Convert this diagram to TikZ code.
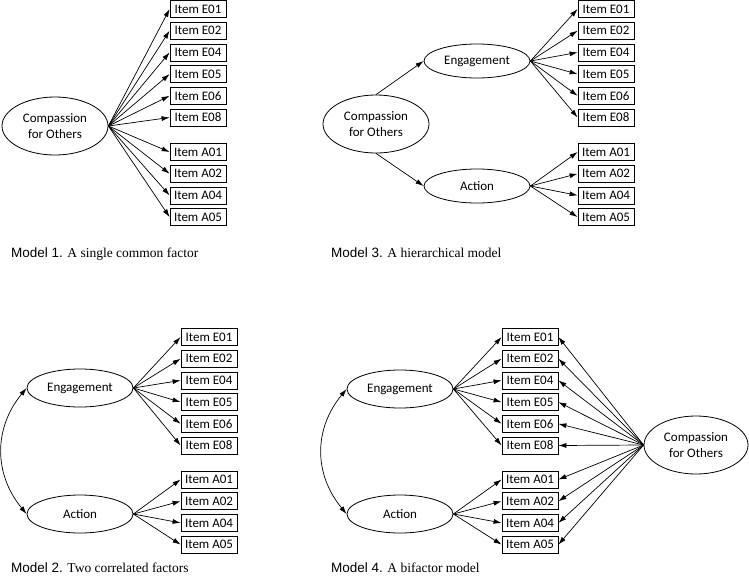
\documentclass[tikz,border=0pt]{standalone}
\usepackage{fontspec}
\setmainfont{Liberation Serif}
\newfontfamily\boxfont{Carlito}
\newfontfamily\capsans{Liberation Sans}
\usetikzlibrary{arrows.meta,shapes.geometric}
\tikzset{
  item/.style={draw, line width=0.8pt, minimum width=56pt, minimum height=17pt, inner sep=0pt,
    font=\boxfont\fontsize{13}{16}\selectfont},
  lat/.style={draw, ellipse, line width=0.8pt, inner sep=0pt, align=center,
    font=\boxfont\fontsize{13}{16}\selectfont},
  bigfac/.style={lat, minimum width=106pt, minimum height=58pt},
  smallfac/.style={lat, minimum width=106pt, minimum height=38pt},
  load/.style={line width=0.7pt, -{Latex[length=8pt,width=5pt]}},
  cov/.style={line width=0.7pt, {Latex[length=8pt,width=5pt]}-{Latex[length=8pt,width=5pt]}},
  captxt/.style={anchor=base west, inner sep=0pt, font=\fontsize{13.5}{16}\selectfont},
}
\begin{document}
\begin{tikzpicture}[x=1pt,y=-1pt]
\useasboundingbox (0,0) rectangle (749,584);

% ---------- Model 1 ----------
\node[bigfac] (m1c) at (55,126) {Compassion\\for Others};
\foreach \lab [count=\i] in {E01,E02,E04,E05,E06,E08}
  \node[item] (m1e\i) at (198,{9+21.7*(\i-1)}) {Item \lab};
\foreach \lab [count=\i] in {A01,A02,A04,A05}
  \node[item] (m1a\i) at (198,{152+21.7*(\i-1)}) {Item \lab};
\foreach \i in {1,...,6} \draw[load] (m1c.east) -- (m1e\i.west);
\foreach \i in {1,...,4} \draw[load] (m1c.east) -- (m1a\i.west);
\node[captxt] (cap1) at (11,257) {{\capsans Model 1.} A single common factor};

% ---------- Model 3 ----------
\node[bigfac] (m3c) at (376,124) {Compassion\\for Others};
\node[lat, minimum width=106pt, minimum height=34pt] (m3e) at (477,61) {Engagement};
\node[lat, minimum width=106pt, minimum height=34pt] (m3a) at (477,186) {Action};
\foreach \lab [count=\i] in {E01,E02,E04,E05,E06,E08}
  \node[item] (m3e\i) at (606,{9+21.7*(\i-1)}) {Item \lab};
\foreach \lab [count=\i] in {A01,A02,A04,A05}
  \node[item] (m3a\i) at (606,{152+21.7*(\i-1)}) {Item \lab};
\draw[load] (m3c.north) -- (m3e.west);
\draw[load] (m3c.south) -- (m3a.west);
\foreach \i in {1,...,6} \draw[load] (m3e.east) -- (m3e\i.west);
\foreach \i in {1,...,4} \draw[load] (m3a.east) -- (m3a\i.west);
\node[captxt] (cap3) at (331,257) {{\capsans Model 3.} A hierarchical model};

% ---------- Model 2 ----------
\node[smallfac] (m2e) at (80,388) {Engagement};
\node[smallfac] (m2a) at (80,514) {Action};
\foreach \lab [count=\i] in {E01,E02,E04,E05,E06,E08}
  \node[item] (m2e\i) at (209,{337+21.7*(\i-1)}) {Item \lab};
\foreach \lab [count=\i] in {A01,A02,A04,A05}
  \node[item] (m2a\i) at (209,{479.5+21.7*(\i-1)}) {Item \lab};
\foreach \i in {1,...,6} \draw[load] (m2e.east) -- (m2e\i.west);
\foreach \i in {1,...,4} \draw[load] (m2a.east) -- (m2a\i.west);
\draw[cov] (m2e.west) .. controls +(-33,40) and +(-33,-40) .. (m2a.west);
\node[captxt] (cap2) at (11,572) {{\capsans Model 2.} Two correlated factors};

% ---------- Model 4 ----------
\node[smallfac] (m4e) at (400,389) {Engagement};
\node[smallfac] (m4a) at (400,514) {Action};
\node[lat, minimum width=104pt, minimum height=58pt] (m4c) at (696,445) {Compassion\\for Others};
\foreach \lab [count=\i] in {E01,E02,E04,E05,E06,E08}
  \node[item] (m4e\i) at (530,{337+21.7*(\i-1)}) {Item \lab};
\foreach \lab [count=\i] in {A01,A02,A04,A05}
  \node[item] (m4a\i) at (530,{479.5+21.7*(\i-1)}) {Item \lab};
\foreach \i in {1,...,6} {
  \draw[load] (m4e.east) -- (m4e\i.west);
  \draw[load] (m4c.west) -- (m4e\i.east);
}
\foreach \i in {1,...,4} {
  \draw[load] (m4a.east) -- (m4a\i.west);
  \draw[load] (m4c.west) -- (m4a\i.east);
}
\draw[cov] (m4e.west) .. controls +(-33,40) and +(-33,-40) .. (m4a.west);
\node[captxt] (cap4) at (331,572) {{\capsans Model 4.} A bifactor model};
\end{tikzpicture}
\end{document}
